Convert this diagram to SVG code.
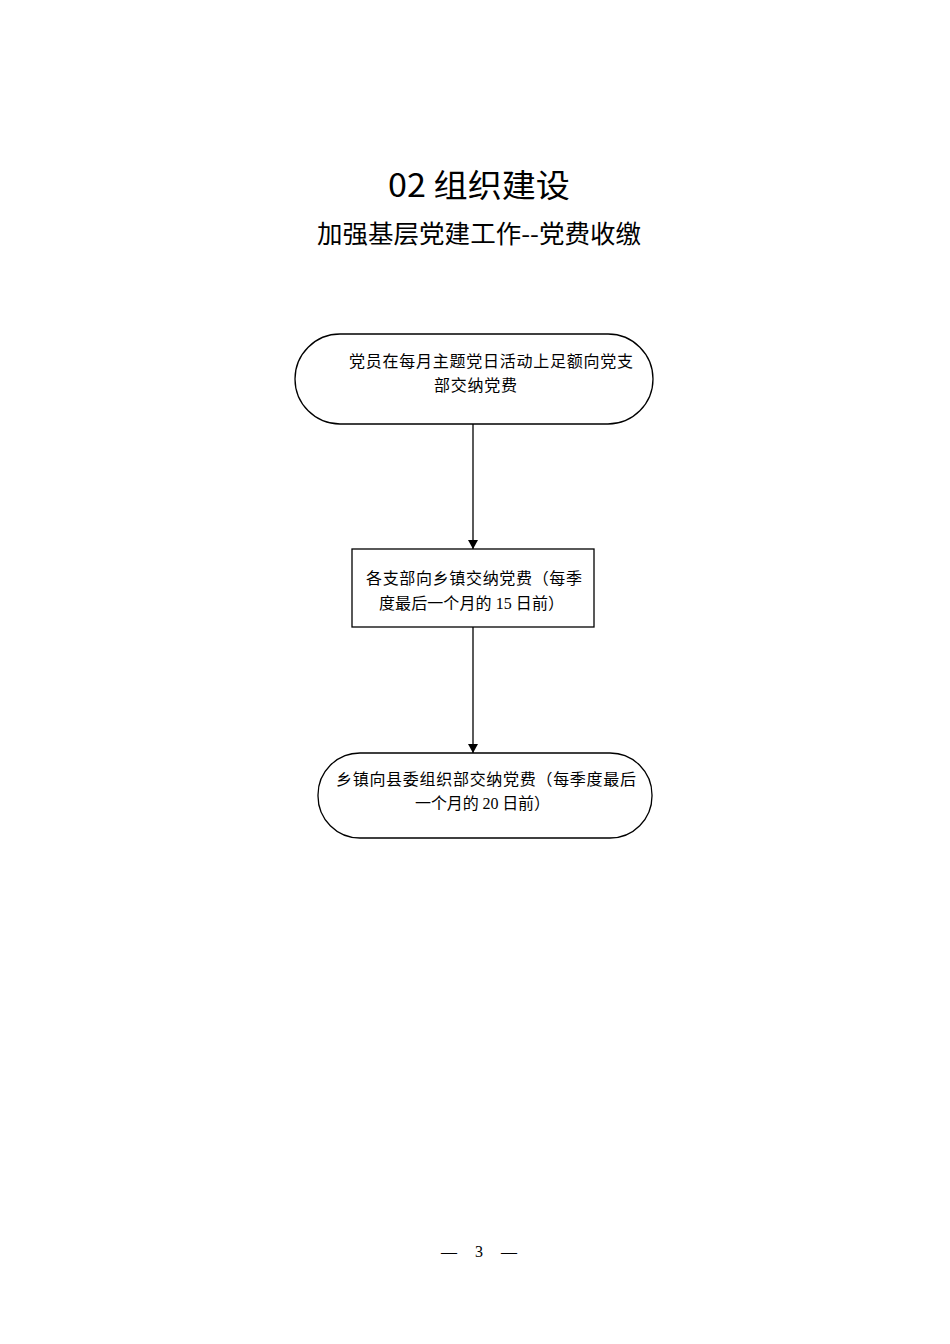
<svg xmlns="http://www.w3.org/2000/svg" width="950" height="1344" viewBox="0 0 950 1344">
<style>
.s{fill:#fff;stroke:#000;stroke-width:1.3}
.t{font-family:"Liberation Serif","Noto Sans CJK SC",serif;font-size:16px;fill:#000}
.h{font-family:"Noto Sans CJK SC",sans-serif;fill:#000}
</style>
<defs><marker id="a" markerWidth="10" markerHeight="10" refX="9" refY="5" orient="auto" markerUnits="userSpaceOnUse"><path d="M0,0 L9,5 L0,10 Z" fill="#000"/></marker></defs>
<rect width="950" height="1344" fill="#fff"/>
<text class="h" x="388" y="197" font-size="32" textLength="182" lengthAdjust="spacingAndGlyphs">02 组织建设</text>
<text class="h" x="317" y="243" font-size="25" textLength="324" lengthAdjust="spacingAndGlyphs">加强基层党建工作--党费收缴</text>
<g id="n1"><rect class="s" x="295" y="334" width="358" height="90" rx="45"/>
<text class="t" x="349" y="367" textLength="284">党员在每月主题党日活动上足额向党支</text><text class="t" x="434" y="391" textLength="83">部交纳党费</text></g>
<g id="n2"><rect class="s" x="352" y="549" width="242" height="78"/>
<text class="t" x="366" y="584" textLength="216">各支部向乡镇交纳党费（每季</text><text class="t" x="379" y="609" textLength="185">度最后一个月的 15 日前）</text></g>
<g id="n3"><rect class="s" x="318" y="753" width="334" height="85" rx="42"/>
<text class="t" x="336" y="785" textLength="300">乡镇向县委组织部交纳党费（每季度最后</text><text class="t" x="415" y="809" textLength="135">一个月的 20 日前）</text></g>
<g id="edges" stroke="#000" stroke-width="1.3"><line x1="473" y1="424" x2="473" y2="549" marker-end="url(#a)"/><line x1="473" y1="627" x2="473" y2="753" marker-end="url(#a)"/></g>
<text class="t" x="441" y="1257" font-size="20" textLength="76">— 3 —</text>
</svg>
